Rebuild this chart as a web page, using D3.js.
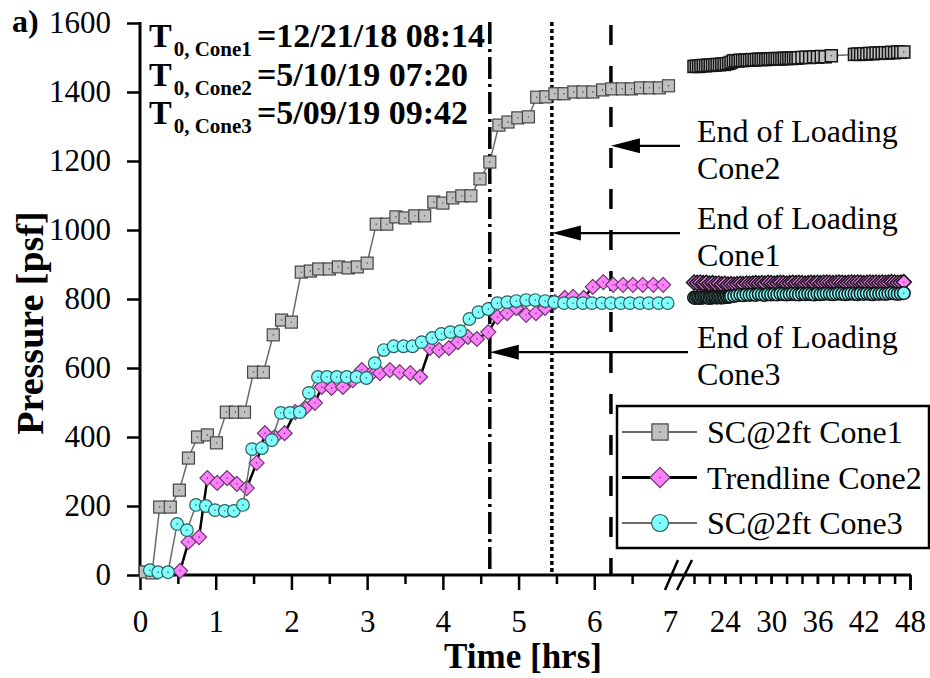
<!DOCTYPE html>
<meta charset="utf-8">
<head>
    <title>Pressure vs Time</title>
    <script src="https://cdn.jsdelivr.net/npm/d3@7"></script>
</head>

<style>
    body { margin: 0; background: #fff; }
    text { font-family: "Liberation Serif", "Times New Roman", serif; fill: #000; }
    .b { font-weight: bold; }
</style>

<svg></svg>

<script>
    var vWidth = 930;
    var vHeight = 678;

    // SC@2ft Cone1, loading phase (hrs / psf)
    var tCone1 = [0.07, 0.16, 0.26, 0.40, 0.52, 0.64, 0.76, 0.89, 1.01, 1.14, 1.26, 1.38, 1.50, 1.63, 1.76, 1.87, 2.00,
        2.13, 2.25, 2.36, 2.50, 2.62, 2.75, 2.87, 3.00, 3.12, 3.26, 3.38, 3.50, 3.63, 3.76, 3.88, 4.00, 4.13, 4.25, 4.37,
        4.49, 4.62, 4.74, 4.86, 4.99, 5.13, 5.24, 5.36, 5.48, 5.60, 5.73, 5.85, 5.98, 6.11, 6.23, 6.37, 6.49, 6.61, 6.73,
        6.86, 6.98];
    var pCone1 = [9, 6, 197, 197, 246, 339, 400, 406, 383, 472, 472, 472, 588, 588, 696, 739, 733,
        878, 881, 887, 887, 893, 890, 893, 904, 1017, 1017, 1038, 1035, 1041, 1041, 1081, 1078, 1093, 1099, 1099,
        1148, 1197, 1304, 1313, 1325, 1328, 1385, 1386, 1395, 1395, 1400, 1400, 1400, 1406, 1409, 1409, 1409, 1412, 1412,
        1412, 1418];

    // Trendline Cone2, loading phase
    var tCone2 = [0.53, 0.64, 0.78, 0.89, 1.02, 1.15, 1.28, 1.41, 1.54, 1.65, 1.78, 1.91, 2.05, 2.18, 2.31, 2.40, 2.53,
        2.68, 2.81, 2.93, 3.06, 3.17, 3.30, 3.43, 3.57, 3.70, 3.83, 3.95, 4.08, 4.20, 4.33, 4.45, 4.60, 4.72, 4.85, 4.97,
        5.10, 5.23, 5.35, 5.48, 5.61, 5.72, 5.86, 5.98, 6.12, 6.25, 6.38, 6.51, 6.64, 6.78, 6.91];
    var pCone2 = [12, 96, 110, 281, 267, 281, 264, 252, 325, 411, 400, 411, 472, 484, 499, 545, 542,
        545, 565, 594, 585, 585, 594, 588, 585, 574, 658, 652, 658, 675, 690, 684, 704, 748, 759, 774,
        754, 759, 774, 791, 803, 806, 803, 835, 849, 841, 841, 841, 841, 841, 841];

    // SC@2ft Cone3, loading phase
    var tCone3 = [0.13, 0.24, 0.37, 0.49, 0.62, 0.74, 0.87, 0.99, 1.12, 1.24, 1.36, 1.48, 1.61, 1.74, 1.86, 1.98, 2.11,
        2.23, 2.35, 2.47, 2.60, 2.73, 2.86, 2.99, 3.10, 3.22, 3.35, 3.48, 3.60, 3.72, 3.86, 3.98, 4.10, 4.23, 4.35, 4.47,
        4.60, 4.72, 4.85, 4.97, 5.10, 5.22, 5.35, 5.47, 5.60, 5.72, 5.85, 5.97, 6.10, 6.22, 6.35, 6.47, 6.60, 6.72, 6.85,
        6.97];
    var pCone3 = [14, 8, 8, 148, 130, 203, 200, 188, 186, 186, 203, 365, 368, 391, 470, 470, 472,
        528, 574, 574, 574, 574, 574, 571, 614, 652, 663, 663, 663, 675, 687, 699, 704, 707, 742, 762,
        771, 788, 791, 794, 797, 797, 794, 791, 788, 788, 788, 788, 788, 788, 788, 788, 788, 788, 788,
        788];

    // long-term readings (20 - 48 hrs)
    var tLate1 = [20.0, 20.3, 20.6, 20.9, 21.2, 21.5, 21.8, 22.1, 22.4, 22.7,
        23.0, 23.3, 23.6, 23.9, 24.2, 24.5, 24.8, 25.1, 25.4, 25.7,
        26.0, 26.3, 26.6, 26.9, 27.2, 27.5, 27.8, 28.1, 28.4, 28.7,
        29.0, 29.3, 29.6, 29.9, 30.2, 30.5, 30.8, 31.1, 31.4, 31.7,
        32.0, 32.3, 32.6, 32.9, 33.2, 33.5,
        34.0, 34.5, 35.0, 35.5, 36.0, 36.5, 37.0, 37.8,
        40.8, 41.2, 41.6, 42.0, 42.4, 42.8, 43.2, 43.6, 44.0, 44.4, 44.8, 45.2, 45.6, 46.0, 46.4, 46.8, 47.2];
    var pLate1 = [1474, 1475, 1474, 1476, 1477, 1476, 1478, 1477, 1479, 1478,
        1480, 1479, 1481, 1480, 1482, 1483, 1486, 1490, 1491, 1490,
        1492, 1491, 1492, 1493, 1492, 1494, 1493, 1494, 1495, 1494,
        1495, 1494, 1496, 1495, 1496, 1497, 1496, 1497, 1496, 1498,
        1497, 1498, 1497, 1499, 1498, 1499,
        1500, 1501, 1500, 1502, 1501, 1503, 1502, 1505,
        1509, 1510, 1509, 1511, 1510, 1512, 1511, 1513, 1512, 1513, 1514, 1513, 1515, 1514, 1516, 1515, 1516];

    var tLate2 = [20.0, 20.4, 20.8, 21.2, 21.6, 22.0, 22.4, 22.8, 23.2, 23.6,
        24.0, 24.4, 24.8, 25.2, 25.6, 26.0, 26.4, 26.8, 27.2, 27.6,
        28.0, 28.4, 28.8, 29.2, 29.6, 30.0, 30.4, 30.8, 31.2, 31.6,
        32.0, 32.4, 32.8, 33.2, 33.6, 34.0, 34.4, 34.8, 35.2, 35.6,
        36.0, 36.4, 36.8, 37.2, 37.6, 38.0, 38.4, 38.8, 39.2, 39.6,
        40.0, 40.4, 40.8, 41.2, 41.6, 42.0, 42.4, 42.8, 43.2, 43.6,
        44.0, 44.4, 44.8, 45.2, 45.6, 46.0, 46.4, 46.8, 47.2];
    var pLate2 = [848, 847, 848, 846, 847, 845, 846, 844, 845, 843,
        844, 842, 843, 842, 843, 844, 843, 845, 844, 845,
        846, 845, 846, 845, 847, 846, 845, 846, 847, 846,
        845, 846, 847, 846, 847, 846, 845, 846, 847, 846,
        847, 846, 847, 848, 847, 846, 847, 848, 847, 846,
        847, 848, 847, 848, 847, 846, 847, 848, 847, 848,
        847, 848, 847, 848, 849, 848, 847, 848, 849];

    var tLate3 = [20.0, 20.2, 20.4, 20.6, 20.8, 21.0, 21.2, 21.4, 21.6, 21.8,
        22.0, 22.2, 22.4, 22.6, 22.8, 23.0, 23.2, 23.4, 23.6, 23.8,
        24.0, 24.2, 24.4, 24.6, 24.8,
        25.2, 25.6, 26.0, 26.4, 26.8, 27.2, 27.6,
        28.0, 28.4, 28.8, 29.2, 29.6, 30.0, 30.4, 30.8, 31.2, 31.6,
        32.0, 32.4, 32.8, 33.2, 33.6, 34.0, 34.4, 34.8, 35.2, 35.6,
        36.0, 36.4, 36.8, 37.2, 37.6, 38.0, 38.4, 38.8, 39.2, 39.6,
        40.0, 40.4, 40.8, 41.2, 41.6, 42.0, 42.4, 42.8, 43.2, 43.6,
        44.0, 44.4, 44.8, 45.2, 45.6, 46.0, 46.4, 46.8, 47.2];
    var pLate3 = [804, 803, 805, 804, 803, 805, 804, 806, 805, 804,
        803, 805, 804, 806, 805, 804, 806, 805, 804, 806,
        805, 807, 806, 807, 808,
        809, 811, 812, 811, 813, 812, 813,
        812, 814, 813, 812, 814, 813, 814, 813, 815, 814,
        813, 814, 815, 814, 813, 815, 814, 815, 814, 813,
        815, 814, 815, 816, 815, 814, 815, 816, 815, 814,
        815, 816, 815, 814, 816, 815, 816, 815, 814, 816,
        815, 816, 815, 816, 817, 816, 815, 816, 817];

    // end of loading markers: time, line dash, label, arrow height (psf)
    var endTimes = [4.62, 5.44, 6.22];
    var endDash = ['22,5,3,5', '4,3', '20,21'];
    var endLabels = ['Cone3', 'Cone1', 'Cone2'];
    var endArrowAt = [646, 991, 1244];
    var endArrowTail = [688, 680, 680];

    var yMajor = [0, 200, 400, 600, 800, 1000, 1200, 1400, 1600];
    var yMinor = [50, 100, 150, 250, 300, 350, 450, 500, 550, 650, 700, 750, 850, 900, 950, 1050, 1100, 1150,
        1250, 1300, 1350, 1450, 1500, 1550];
    var xMajor = [0, 1, 2, 3, 4, 5, 6, 7];
    var xMinor = [0.5, 1.5, 2.5, 3.5, 4.5, 5.5, 6.5];
    var xLateTicks = [20, 22, 24, 26, 28, 30, 32, 34, 36, 38, 40, 42, 44, 46, 48];
    var xLateLabels = [24, 30, 36, 42, 48];

    var legendNames = ['SC@2ft Cone1', 'Trendline Cone2', 'SC@2ft Cone3'];
    var t0Names = ['0, Cone1', '0, Cone2', '0, Cone3'];
    var t0Values = ['=12/21/18 08:14', '=5/10/19 07:20', '=5/09/19 09:42'];

    var svg = d3.select('svg').attr('width', vWidth).attr('height', vHeight);

    // broken time axis: 0-7 hrs then 20-48 hrs
    var x = d3.scaleLinear().domain([0, 7, 20, 48]).range([140, 670, 694, 910]);
    var y = d3.scaleLinear().domain([0, 1600]).range([575, 23]);
    var fmt = d3.format('d');

    // axes
    var gy = svg.append('g').attr('transform', 'translate(140,0)');
    gy.call(d3.axisLeft(y).tickValues(yMinor).tickSize(7).tickFormat('').tickSizeOuter(0));
    gy.call(d3.axisLeft(y).tickValues(yMajor).tickSize(13).tickPadding(16).tickFormat(fmt).tickSizeOuter(0));
    var gx = svg.append('g').attr('transform', 'translate(0,575)');
    gx.append('g').call(d3.axisBottom(x).tickValues(xMinor).tickSize(9).tickFormat('').tickSizeOuter(0));
    gx.append('g').call(d3.axisBottom(x).tickValues(xMajor).tickSize(15).tickPadding(20).tickFormat(fmt).tickSizeOuter(0));
    gx.append('g').call(d3.axisBottom(x).tickValues(xLateTicks).tickSize(9).tickFormat('').tickSizeOuter(0));
    gx.append('g').call(d3.axisBottom(x).tickValues(xLateLabels).tickSize(9).tickPadding(26).tickFormat(fmt).tickSizeOuter(0));
    svg.selectAll('.domain').remove();
    svg.selectAll('.tick line').attr('stroke', '#000').attr('stroke-width', 2.5);
    svg.selectAll('.tick text').attr('font-size', 31).attr('font-family', '"Liberation Serif", serif');
    gx.selectAll('.tick').filter(function (d) { return d === 7; }).select('line').remove();
    gx.selectAll('.tick').filter(function (d) { return d === 48; }).select('line').attr('y2', 15);

    svg.append('line').attr('x1', x(0)).attr('x2', x(48) + 1).attr('y1', y(0)).attr('y2', y(0))
        .attr('stroke', '#000').attr('stroke-width', 3);
    svg.append('line').attr('x1', x(0)).attr('x2', x(0)).attr('y1', y(0) + 1).attr('y2', y(1600) - 1)
        .attr('stroke', '#000').attr('stroke-width', 3);

    // break marks
    [[-5, 8], [7, 22]].forEach(function (s) {
        svg.append('line').attr('x1', x(7) + s[0]).attr('y1', y(0) + 15).attr('x2', x(7) + s[1]).attr('y2', y(0) - 15)
            .attr('stroke', '#000').attr('stroke-width', 2.5);
    });

    // end of loading lines
    endTimes.forEach(function (t, i) {
        svg.append('line').attr('x1', x(t)).attr('x2', x(t)).attr('y1', y(1600) + (i === 2 ? 2 : -1)).attr('y2', y(0))
            .attr('stroke', '#000').attr('stroke-width', 3.5).attr('stroke-dasharray', endDash[i]);
    });

    // series
    var series = [
        {t: tCone1, p: pCone1, tl: tLate1, pl: pLate1, sym: 'square', fill: '#c0c0c0', stroke: '#454545', line: '#6a6a6a', lw: 1.5},
        {t: tCone2, p: pCone2, tl: tLate2, pl: pLate2, sym: 'diamond', fill: '#ff80ff', stroke: '#6a3a6a', line: '#000', lw: 2.5},
        {t: tCone3, p: pCone3, tl: tLate3, pl: pLate3, sym: 'circle', fill: '#80ffff', stroke: '#2f5e5e', line: '#6a6a6a', lw: 1.5}
    ];
    var line = d3.line().x(function (d) { return x(d[0]); }).y(function (d) { return y(d[1]); });

    function marker(sel, s, scale, edge) {
        var k = scale || 1;
        if (s.sym === 'square') {
            sel.append('rect').attr('x', -6 * k).attr('y', -6 * k).attr('width', 12 * k).attr('height', 12 * k);
        } else if (s.sym === 'diamond') {
            sel.append('path').attr('d', 'M0,' + (-7.5 * k) + 'L' + (7.5 * k) + ',0L0,' + (7.5 * k) + 'L' + (-7.5 * k) + ',0Z');
        } else {
            sel.append('circle').attr('r', 6.3 * k);
        }
        sel.selectAll('rect,path,circle').attr('fill', s.fill)
            .attr('stroke', edge ? '#151515' : s.stroke).attr('stroke-width', edge ? 1.5 : 1.2);
        sel.append('circle').attr('r', 0.7).attr('fill', '#333');
    }

    series.forEach(function (s) {
        var early = s.t.map(function (t, i) { return [t, s.p[i]]; });
        var late = s.tl.map(function (t, i) { return [t, s.pl[i]]; });
        [early, late].forEach(function (pts, j) {
            svg.append('path').attr('d', line(pts)).attr('fill', 'none')
                .attr('stroke', s.line).attr('stroke-width', s.lw);
            svg.append('g').selectAll('g').data(pts).enter().append('g')
                .attr('transform', function (d) { return 'translate(' + x(d[0]) + ',' + y(d[1]) + ')'; })
                .each(function () { marker(d3.select(this), s, 1, j === 1); });
        });
    });

    // end of loading arrows + labels
    endTimes.forEach(function (t, i) {
        var ya = y(endArrowAt[i]);
        svg.append('line').attr('x1', x(t) + 20).attr('x2', endArrowTail[i]).attr('y1', ya).attr('y2', ya)
            .attr('stroke', '#000').attr('stroke-width', 2.2);
        svg.append('path').attr('d', 'M' + x(t) + ',' + ya + 'l29,-7.5v15z').attr('fill', '#000');
        var tx = svg.append('text').attr('x', 697).attr('y', ya - 4).attr('font-size', 32);
        tx.append('tspan').text('End of Loading');
        tx.append('tspan').attr('x', 697).attr('dy', 37).text(endLabels[i]);
    });

    // legend
    var lg = svg.append('g').attr('transform', 'translate(617,406)');
    lg.append('rect').attr('width', 312).attr('height', 142).attr('fill', '#fff')
        .attr('stroke', '#000').attr('stroke-width', 2.5);
    series.forEach(function (s, i) {
        var row = lg.append('g').attr('transform', 'translate(0,' + (26 + i * 45.5) + ')');
        row.append('line').attr('x1', 5).attr('x2', 80).attr('stroke', s.line).attr('stroke-width', s.lw + 0.5);
        var m = row.append('g').attr('transform', 'translate(43,0)');
        marker(m, s, 1.35);
        row.append('text').attr('x', 90).attr('y', 11).attr('font-size', 32).text(legendNames[i]);
    });

    // T0 block
    t0Names.forEach(function (n, i) {
        var by = 47 + i * 38.5;
        var tt = svg.append('text').attr('class', 'b').attr('x', 149).attr('y', by).attr('font-size', 34);
        tt.append('tspan').text('T');
        tt.append('tspan').attr('font-size', 21).attr('dy', 9).attr('dx', 2).text(n);
        svg.append('text').attr('class', 'b').attr('x', 257).attr('y', by).attr('font-size', 34).text(t0Values[i]);
    });

    svg.append('text').attr('class', 'b').attr('x', 12).attr('y', 32).attr('font-size', 32).text('a)');
    svg.append('text').attr('class', 'b').attr('x', 523).attr('y', 668).attr('font-size', 35)
        .attr('text-anchor', 'middle').text('Time [hrs]');
    svg.append('text').attr('class', 'b').attr('transform', 'translate(43,323) rotate(-90)')
        .attr('font-size', 38).attr('text-anchor', 'middle').text('Pressure [psf]');
</script>
